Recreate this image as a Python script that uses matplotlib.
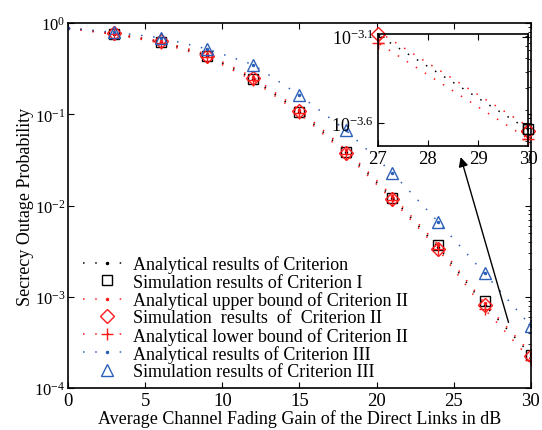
import numpy as np
import matplotlib
matplotlib.use("Agg")
import matplotlib.pyplot as plt
from matplotlib.ticker import LogLocator, FixedLocator, FuncFormatter, NullFormatter

plt.rcParams['font.family'] = ['Liberation Serif', 'DejaVu Serif']
plt.rcParams['mathtext.fontset'] = 'custom'
plt.rcParams['mathtext.rm'] = 'Liberation Serif'
plt.rcParams['mathtext.it'] = 'Liberation Serif:italic'

# ---------------- data ----------------
x_anal = [0, 3, 6, 9, 12, 15, 18, 21, 24, 27, 30]
anal_I = [0.88, 0.76, 0.62, 0.44, 0.245, 0.107, 0.039, 0.0122, 0.0035, 0.00081, 0.000232]
upper_II = [0.89, 0.77, 0.635, 0.455, 0.255, 0.112, 0.041, 0.0128, 0.0037, 0.00085, 0.000242]
lower_II = [0.87, 0.75, 0.605, 0.425, 0.235, 0.102, 0.037, 0.0116, 0.0033, 0.00073, 0.000205]
anal_III = [0.88, 0.79, 0.69, 0.52, 0.35, 0.162, 0.067, 0.023, 0.0066, 0.0018, 0.00048]

x_sim = [3, 6, 9, 12, 15, 18, 21, 24, 27, 30]
sim_I = [0.76, 0.62, 0.44, 0.245, 0.107, 0.039, 0.0122, 0.0037, 0.00090, 0.000232]
sim_II = [0.77, 0.63, 0.44, 0.25, 0.108, 0.038, 0.0118, 0.0033, 0.00082, 0.000226]
sim_III = [0.79, 0.69, 0.52, 0.35, 0.162, 0.067, 0.023, 0.0066, 0.0018, 0.00048]

labels = ["Analytical results of Criterion",
          "Simulation results of Criterion I",
          "Analytical upper bound of Criterion II",
          "Simulation  results  of  Criterion II",
          "Analytical lower bound of Criterion II",
          "Analytical results of Criterion III",
          "Simulation results of Criterion III"]

xticks = [0, 5, 10, 15, 20, 25, 30]
inset_xticks = [27, 28, 29, 30]
inset_yexp = [-3.1, -3.6]

BLUE = '#2b5fb8'
RED = '#ff1a1a'
BLACK = '#000000'

fig = plt.figure(figsize=(5.42, 4.31), dpi=100)
ax = fig.add_axes([0.1255, 0.0974, 0.854, 0.8469])


def draw(a, dotspace=7.0, with_III=True):
    ls = (0, (1, dotspace))
    h = []
    h.append(a.plot(x_anal, anal_I, color=BLACK, ls=ls, lw=1.1, marker='.', ms=3)[0])
    h.append(a.plot(x_sim, sim_I, ls='none', marker='s', ms=7, mfc='none', mec=BLACK, mew=1.0)[0])
    h.append(a.plot(x_anal, upper_II, color=RED, ls=ls, lw=1.1, marker='.', ms=3)[0])
    h.append(a.plot(x_sim, sim_II, ls='none', marker='D', ms=7, mfc='none', mec=RED, mew=1.0)[0])
    h.append(a.plot(x_anal, lower_II, color=RED, ls=ls, lw=1.1, marker='+', ms=9, mew=1.0,
                    markevery=slice(1, None))[0])
    if with_III:
        h.append(a.plot(x_anal, anal_III, color=BLUE, ls=ls, lw=1.1, marker='.', ms=3)[0])
        h.append(a.plot(x_sim, sim_III, ls='none', marker='^', ms=8, mfc='none', mec=BLUE, mew=1.0)[0])
    return h


handles = draw(ax)
ax.set_yscale('log')
ax.set_xlim(0, 30)
ax.set_ylim(1e-4, 1)
ax.set_xticks(xticks)
ax.set_xticklabels([str(t) for t in xticks])
ax.yaxis.set_major_locator(LogLocator(base=10, numticks=10))
ax.yaxis.set_major_formatter(FuncFormatter(lambda v, p: r'$10^{%d}$' % round(np.log10(v))))
ax.yaxis.set_minor_locator(LogLocator(base=10, subs=np.arange(2, 10), numticks=20))
ax.yaxis.set_minor_formatter(NullFormatter())
ax.tick_params(which='major', direction='in', length=4, width=0.8, top=True, right=True)
ax.tick_params(axis='x', labelsize=13.5, pad=3)
ax.tick_params(axis='y', labelsize=12, pad=2)
ax.tick_params(which='minor', direction='in', length=2.5, width=0.6, left=False, right=True)
for s in ax.spines.values():
    s.set_linewidth(1.2)
ax.set_xlabel("Average Channel Fading Gain of the Direct Links in dB", fontsize=13, labelpad=0)
ax.set_ylabel("Secrecy Outage Probability", fontsize=13)
ax.yaxis.set_label_coords(-0.074, 0.5)

leg = ax.legend(handles, labels, loc='lower left', bbox_to_anchor=(0.004, -0.013), frameon=False,
                fontsize=13, handlelength=2.7, handletextpad=0.1, labelspacing=0.02,
                borderaxespad=0.3)

# arrow
ax.annotate('', xy=(25.4, 10 ** -1.44), xytext=(28.6, 10 ** -3.31),
            arrowprops=dict(arrowstyle='-|>', color='black', lw=1.0, mutation_scale=14))

# inset (zoom on Criterion I / II near 27-30 dB)
ins = fig.add_axes([0.6974, 0.6589, 0.2768, 0.2599])
ins.set_facecolor('white')
draw(ins, dotspace=6.0, with_III=False)
ins.set_yscale('log')
ins.set_xlim(27, 30)
ins.set_ylim(10 ** -3.73, 10 ** -3.085)
lo, hi = ins.get_ylim()
for xs, ys, mk, col, ms in [(x_sim, sim_II, 'D', RED, 7), (x_anal, lower_II, '+', RED, 9),
                            (x_sim, sim_I, 's', BLACK, 7)]:
    sel = [(xv, yv) for xv, yv in zip(xs, ys) if xv >= 27 and lo <= yv <= hi * 1.05]
    if sel:
        xv, yv = zip(*sel)
        ins.plot(xv, yv, ls='none', marker=mk, ms=ms, mfc='none', mec=col, mew=1.0, clip_on=False)
ins.set_xticks(inset_xticks)
ins.set_xticklabels([str(t) for t in inset_xticks])
ins.yaxis.set_major_locator(FixedLocator([10 ** e for e in inset_yexp]))
ins.yaxis.set_major_formatter(FuncFormatter(lambda v, p: r'$10^{%.1f}$' % np.log10(v)))
ins.yaxis.set_minor_locator(LogLocator(base=10, subs=np.arange(2, 10), numticks=20))
ins.yaxis.set_minor_formatter(NullFormatter())
ins.tick_params(which='major', direction='in', length=4, width=0.8, top=True, right=True, pad=3)
ins.tick_params(axis='x', labelsize=13.5)
ins.tick_params(axis='y', labelsize=13)
ins.tick_params(which='minor', direction='in', length=2.5, width=0.6, left=False, right=True)
for s in ins.spines.values():
    s.set_linewidth(1.2)

fig.savefig('out.png', dpi=100)
